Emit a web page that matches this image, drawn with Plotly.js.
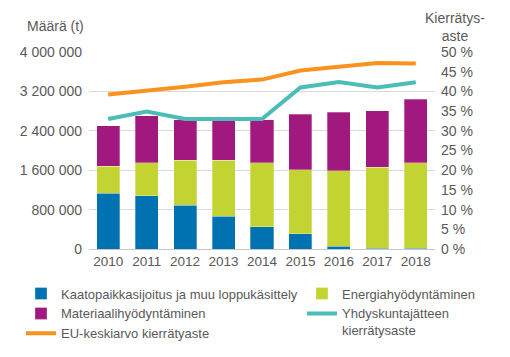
<!DOCTYPE html>
<html>
<head>
<meta charset="utf-8">
<script src="https://cdn.plot.ly/plotly-3.0.1.min.js"></script>
<style>html,body{margin:0;padding:0;background:#fff;}#chart{width:510px;height:357px;}</style>
</head>
<body>
<div id="chart"></div>
<script>
var years = ['2010','2011','2012','2013','2014','2015','2016','2017','2018'];
var kaatopaikka = [1130000, 1080000, 890000, 670000, 450000, 305000, 60000, 20000, 20000];
var energia = [550000, 675000, 915000, 1132000, 1305000, 1307000, 1524000, 1640000, 1734000];
var materiaali = [825000, 955000, 817000, 817000, 866000, 1126000, 1193000, 1145000, 1289000];
var euKierratys = [39.2, 40.1, 41.2, 42.3, 43.0, 45.3, 46.3, 47.2, 47.1];
var yhdyskunta = [33.0, 34.9, 33.0, 33.0, 33.0, 41.0, 42.4, 41.0, 42.3];

var txt = '#595959';
var font = {family: 'Liberation Sans, Arial, sans-serif', size: 13, color: txt};

var traces = [
  {type: 'bar', x: years, y: kaatopaikka, name: 'Kaatopaikkasijoitus ja muu loppukäsittely',
   marker: {color: '#0072B1', line: {color: 'rgba(255,255,255,0.5)', width: 0.6}}, legend: 'legend'},
  {type: 'bar', x: years, y: energia, name: 'Energiahyödyntäminen',
   marker: {color: '#C3D332', line: {color: 'rgba(255,255,255,0.5)', width: 0.6}}, legend: 'legend2'},
  {type: 'bar', x: years, y: materiaali, name: 'Materiaalihyödyntäminen',
   marker: {color: '#A1197E', line: {color: 'rgba(255,255,255,0.5)', width: 0.6}}, legend: 'legend'},
  {type: 'scatter', mode: 'lines', x: years, y: yhdyskunta, yaxis: 'y2', name: 'Yhdyskuntajätteen<br>kierrätysaste',
   line: {color: '#4ABDB6', width: 4}, legend: 'legend2'},
  {type: 'scatter', mode: 'lines', x: years, y: euKierratys, yaxis: 'y2', name: 'EU-keskiarvo kierrätyaste',
   line: {color: '#F7931E', width: 4}, legend: 'legend'}
];

var layout = {
  width: 510, height: 357,
  margin: {l: 89, r: 75, t: 52, b: 108, autoexpand: false},
  paper_bgcolor: '#fff', plot_bgcolor: '#fff',
  font: font,
  separators: ', ',
  barmode: 'stack',
  bargap: 0.4,
  xaxis: {type: 'category', showline: true, linecolor: '#c8c8c8', linewidth: 1,
          ticks: '', tickfont: {size: 13.5, color: txt}, showgrid: false},
  yaxis: {range: [0, 4000000], dtick: 800000, tickformat: ',d', showgrid: true,
          gridcolor: '#d9d9d9', gridwidth: 1, zeroline: false, ticks: '',
          tickfont: {size: 14, color: txt}, ticklabelstandoff: 6},
  yaxis2: {range: [0, 50], dtick: 5, overlaying: 'y', side: 'right', showgrid: false,
           zeroline: false, ticksuffix: ' %', ticks: '', tickfont: {size: 14, color: txt},
           ticklabelstandoff: 5},
  showlegend: true,
  legend: {orientation: 'v', x: -0.1965, xanchor: 'left', y: -0.15, yanchor: 'top',
           font: {size: 13, color: txt}, bgcolor: 'rgba(0,0,0,0)', traceorder: 'normal', valign: 'top', tracegroupgap: 0},
  legend2: {orientation: 'v', x: 0.6156, xanchor: 'left', y: -0.15, yanchor: 'top',
            font: {size: 13, color: txt}, bgcolor: 'rgba(0,0,0,0)', traceorder: 'normal', valign: 'top', tracegroupgap: 0},
  annotations: [
    {text: 'Määrä (t)', xref: 'paper', yref: 'paper', x: -0.185, xanchor: 'left', y: 1.13, yanchor: 'middle',
     showarrow: false, font: {size: 14, color: txt}},
    {text: 'Kierrätys-<br>aste', xref: 'paper', yref: 'paper', x: 1.058, xanchor: 'center', y: 1.127, yanchor: 'middle',
     showarrow: false, align: 'center', font: {size: 14, color: txt}}
  ]
};

Plotly.newPlot('chart', traces, layout, {displayModeBar: false, staticPlot: true});
</script>
</body>
</html>
